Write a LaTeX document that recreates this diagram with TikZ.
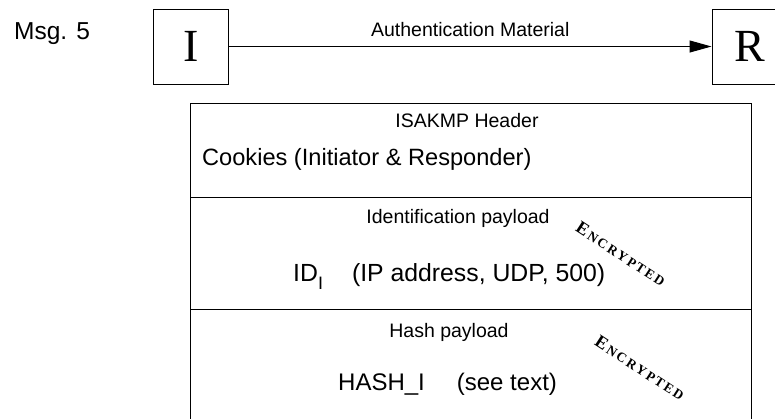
\documentclass[tikz,border=0pt]{standalone}
\usepackage{fontspec}
\setmainfont{Liberation Sans}
\newfontfamily\serifface{Liberation Serif}
\usetikzlibrary{arrows.meta}
\newcommand\encword{{\fontsize{18}{18}\selectfont E}\kern2pt N\kern2pt C\kern2pt R\kern2pt Y\kern2pt P\kern2pt T\kern2pt E\kern2pt D}
\begin{document}
\begin{tikzpicture}[x=1pt,y=-1pt,
  party/.style={draw, line width=1pt, minimum width=75pt, minimum height=75pt, inner sep=0pt, font=\serifface\fontsize{46}{46}\selectfont},
  rowbox/.style={draw, line width=1pt, minimum width=561pt, inner sep=0pt},
  small/.style={font=\fontsize{19.5}{20}\selectfont, inner sep=0pt, anchor=base},
  big/.style={font=\fontsize{24}{25}\selectfont, inner sep=0pt, anchor=base},
  enc/.style={font=\serifface\bfseries\fontsize{13.5}{14}\selectfont, rotate=-33, inner sep=0pt},
  arr/.style={-{Triangle[length=22pt,width=12pt]}, line width=1pt}]
\useasboundingbox (0,0) rectangle (775,418);
\clip (0,0) rectangle (775,418);
\fill[white] (0,0) rectangle (775,418);
\node[big, anchor=base west, font=\fontsize{24.5}{25}\selectfont] (msg) at (14,39) {Msg. 5};
\node[party] (I) at (191,46.5) {I};
\node[party] (R) at (749.5,46.5) {R};
\draw[arr] (I) -- (R) node[midway, small, anchor=base, yshift=10pt] (auth) {Authentication Material};
\node[rowbox, minimum height=94pt] (hdr) at (470.5,150) {};
\node[rowbox, minimum height=112pt] (idp) at (470.5,253) {};
\node[rowbox, minimum height=112pt] (hsh) at (470.5,365) {};
\node[small] (hdrt) at (467,127) {ISAKMP Header};
\node[big, anchor=base west, font=\fontsize{23.6}{25}\selectfont] (cook) at (202,165) {Cookies (Initiator \& Responder)};
\node[small] (idpt) at (458,223) {Identification payload};
\node[big, anchor=base west, font=\fontsize{24.8}{25}\selectfont] (idt) at (293,281) {ID\raisebox{-8pt}{\fontsize{18}{18}\selectfont I}\hspace{29pt}(IP address, UDP, 500)};
\node[enc] (enc1) at (621,254) {\encword};
\node[small] (hsht) at (449,337) {Hash payload};
\node[big, anchor=base west] (hasht) at (338,390) {HASH\_I\hspace{32pt}(see text)};
\node[enc] (enc2) at (640,368) {\encword};
\end{tikzpicture}
\end{document}
